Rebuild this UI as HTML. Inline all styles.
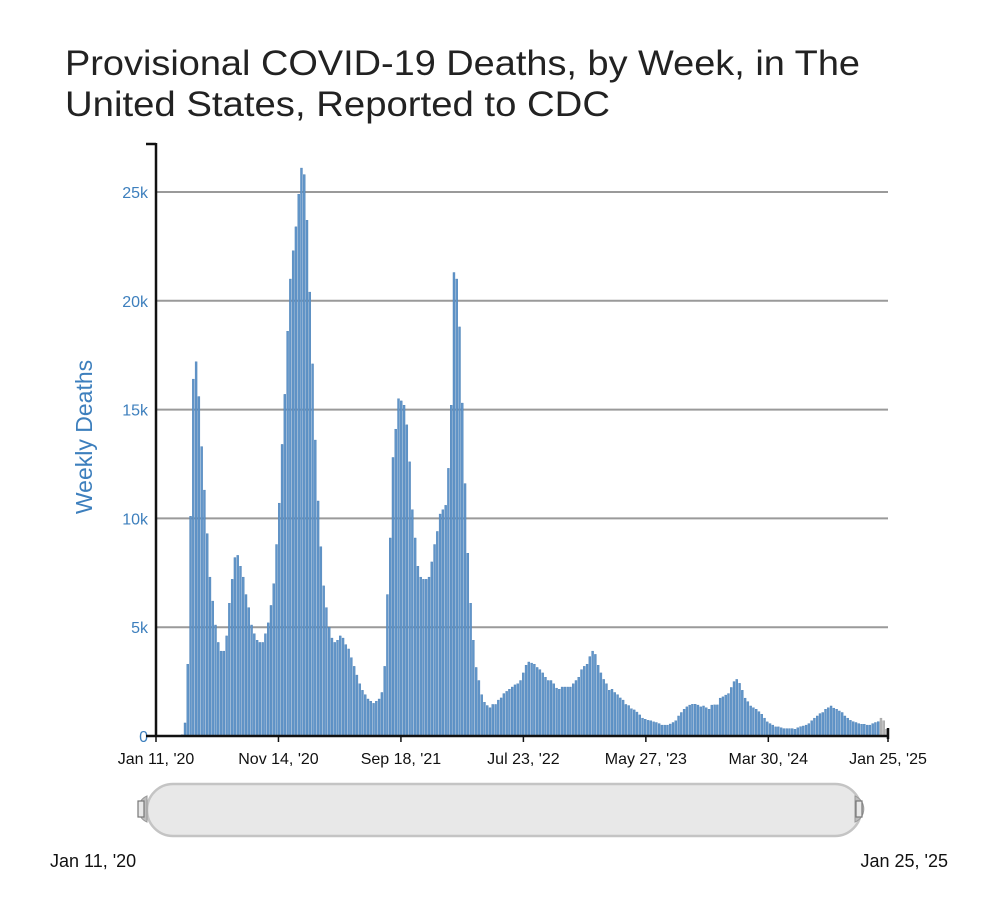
<!DOCTYPE html>
<html><head><meta charset="utf-8"><style>
html,body{margin:0;padding:0;background:#fff;}
svg{display:block;font-family:"Liberation Sans",sans-serif;}
</style></head><body>
<svg id="chart" width="1000" height="902" viewBox="0 0 1000 902" xmlns="http://www.w3.org/2000/svg">
<text x="65" y="75" font-size="35" fill="#222" textLength="795" lengthAdjust="spacingAndGlyphs">Provisional COVID-19 Deaths, by Week, in The</text>
<text x="65" y="116" font-size="35" fill="#222" textLength="545" lengthAdjust="spacingAndGlyphs">United States, Reported to CDC</text>
<g id="grid"></g>
<g id="bars"></g>
<g id="axes"></g>
<text transform="translate(92,437) rotate(-90)" text-anchor="middle" font-size="23" fill="#3d7fbd">Weekly Deaths</text>
<g>
<rect x="147" y="784" width="714" height="52" rx="26" fill="#e8e8e8" stroke="#c4c4c4" stroke-width="2.5"/>
<path d="M147,796 A14,14 0 0 0 147,822 Z" fill="#bdbdbd" stroke="#999" stroke-width="1"/>
<rect x="138" y="801" width="6" height="16" fill="#e8e8e8" stroke="#777" stroke-width="1.2"/>
<path d="M855,796 A14,14 0 0 1 855,822 Z" fill="#bdbdbd" stroke="#999" stroke-width="1"/>
<rect x="856" y="801" width="6" height="16" fill="#e8e8e8" stroke="#777" stroke-width="1.2"/>
<text x="50" y="867" font-size="18" fill="#111">Jan 11, '20</text>
<text x="948" y="867" font-size="18" fill="#111" text-anchor="end">Jan 25, '25</text>
</g>
</svg>
<script>
const weeklyDeaths = [0,0,0,0,0,0,0,0,0,60,600,3300,10100,16400,17200,15600,13300,11300,9300,7300,6200,5100,4300,3900,3900,4600,6100,7200,8200,8300,7800,7300,6500,5900,5100,4700,4400,4300,4300,4700,5200,6000,7000,8800,10700,13400,15700,18600,21000,22300,23400,24900,26100,25800,23700,20400,17100,13600,10800,8700,6900,5900,5000,4500,4300,4400,4600,4500,4200,4000,3600,3200,2800,2400,2100,1900,1700,1600,1500,1600,1700,2000,3200,6500,9100,12800,14100,15500,15400,15200,14300,12600,10400,9100,7800,7300,7200,7200,7300,8000,8800,9400,10200,10400,10600,12300,15200,21300,21000,18800,15300,11600,8400,6100,4400,
3150,2550,1900,1550,1400,1300,1450,1450,1650,1750,1950,2050,2150,2250,2350,2400,2550,2900,3250,3400,3350,3300,3150,3050,2900,2700,2550,2550,2400,2200,2150,2250,2250,2250,2250,2400,2550,2700,3050,3200,3300,3650,3900,3750,3250,2900,2600,2400,2100,2150,2000,1900,1750,1650,1450,1400,1250,1200,1100,970,820,770,720,700,650,620,570,500,500,500,550,620,700,
920,1080,1230,1340,1420,1460,1460,1420,1340,1380,1300,1230,1420,1430,1430,1740,1800,1880,1950,2230,2500,2600,2420,2100,1740,1580,1380,1300,1230,1120,1000,820,650,570,500,420,420,380,340,340,340,340,310,380,430,460,500,570,700,820,920,1030,1080,1230,1300,1380,1280,1230,1150,1080,920,820,720,660,620,570,540,540,500,500,570,620,660,820,700,310];
const provisionalCount = 3;
const yTicks = [0,5000,10000,15000,20000,25000];
const yTickLabels = ["0","5k","10k","15k","20k","25k"];
const xTickWeeks = [0,44,88,132,176,220,263];
const xTickLabels = ["Jan 11, '20","Nov 14, '20","Sep 18, '21","Jul 23, '22","May 27, '23","Mar 30, '24","Jan 25, '25"];

const NS="http://www.w3.org/2000/svg";
const X0=156,X1=888,Y0=736,YPER=544/25000;
const n=weeklyDeaths.length;
const band=(X1-X0)/n;
function xScale(i){return X0+i*band;}
function yScale(v){return Y0-v*YPER;}
function mk(tag,attrs,parent){const e=document.createElementNS(NS,tag);for(const k in attrs)e.setAttribute(k,attrs[k]);parent.appendChild(e);return e;}
const grid=document.getElementById('grid'),bars=document.getElementById('bars'),axes=document.getElementById('axes');
yTicks.forEach((t,i)=>{
  if(t>0){const l=mk('line',{x1:X0,x2:X1,y1:yScale(t),y2:yScale(t),stroke:'#9a9a9a','stroke-width':2},grid);
  
  }
  const tx=mk('text',{x:X0-8,y:yScale(t)+6,'text-anchor':'end','font-size':16,fill:'#3d7fbd'},axes);
  tx.textContent=yTickLabels[i];
  
  
});
weeklyDeaths.forEach((v,i)=>{
  if(v<=0)return;
  const prov=i>=n-provisionalCount;
  const r=mk('rect',{x:xScale(i)+0.3,y:yScale(v),width:band-0.8,height:v*YPER,fill:prov?'#b5b5b5':'#6195c9',stroke:prov?'#999':'#4a7fb5','stroke-width':0.4},bars);
  
  
});
const ya=mk('line',{x1:X0,x2:X0,y1:143,y2:Y0+1,stroke:'#111','stroke-width':2.5},axes);


mk('line',{x1:X0-10,x2:X0,y1:144,y2:144,stroke:'#111','stroke-width':2.5},axes);
const xa=mk('line',{x1:X0-10,x2:X1,y1:Y0,y2:Y0,stroke:'#111','stroke-width':2.5},axes);


mk('line',{x1:X1,x2:X1,y1:Y0-8,y2:Y0+3,stroke:'#111','stroke-width':2.5},axes);
xTickWeeks.forEach((w,i)=>{
  const x=X0+w*(X1-X0)/263;
  mk('line',{x1:x,x2:x,y1:Y0,y2:Y0+6,stroke:'#111','stroke-width':1.5},axes);
  const tx=mk('text',{x:x,y:764,'text-anchor':'middle','font-size':16,fill:'#111'},axes);
  tx.textContent=xTickLabels[i];
  
  
});
</script>
</body></html>
